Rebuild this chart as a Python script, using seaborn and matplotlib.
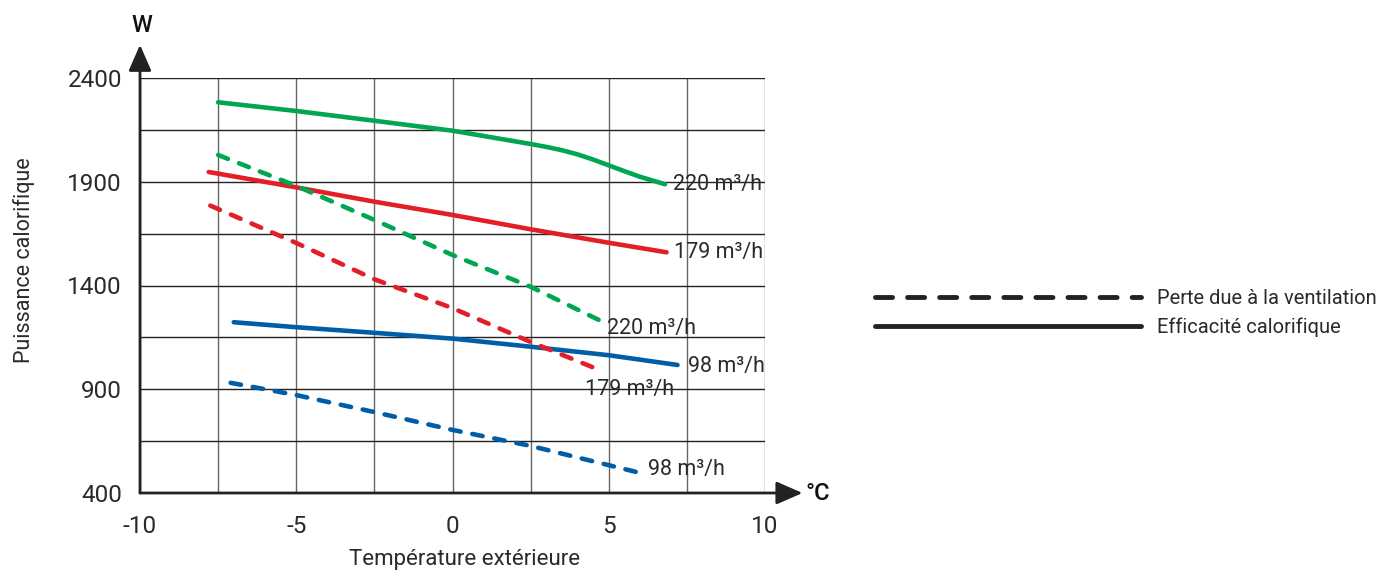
import matplotlib
matplotlib.use("Agg")
import matplotlib.pyplot as plt
from matplotlib.lines import Line2D
import seaborn as sns

# values (x in degC, y in W)
green_eff_x = [-7.5, -5, -2.5, 0, 2.5, 3.0, 3.5, 4.0, 4.5, 5.0, 5.5, 6.0, 6.8]
green_eff_y = [2283, 2241, 2194, 2146, 2082, 2068, 2052, 2032, 2007, 1979, 1951, 1924, 1888]
red_eff_x = [-7.8, -5, -2.5, 0, 2.5, 5, 6.85]
red_eff_y = [1947, 1873, 1804, 1740, 1671, 1606, 1560]
blue_eff_x = [-7.0, -5, -2.5, 0, 2.5, 5, 7.2]
blue_eff_y = [1223, 1199, 1172, 1144, 1105, 1064, 1017]

green_loss_x = [-7.5, -5, -2.5, 0, 2.5, 4.9]
green_loss_y = [2029, 1880, 1716, 1547, 1394, 1218]
red_loss_x = [-7.75, -5, -2.5, 0, 2.5, 4.65]
red_loss_y = [1785, 1605, 1430, 1291, 1128, 996]
blue_loss_x = [-7.1, -5, -2.5, 0, 2.5, 6.05]
blue_loss_y = [931, 872, 790, 704, 627, 495]

labels = ["220 m³/h", "179 m³/h", "98 m³/h"]
legend_labels = ["Perte due à la ventilation", "Efficacité calorifique"]

GREEN = "#00a651"
RED = "#e31e26"
BLUE = "#005ea8"
TXT = "#2a2a2a"

sns.set_style("white")
plt.rcParams["font.family"] = ["Roboto", "DejaVu Sans"]
plt.rcParams["font.weight"] = "normal"

fig = plt.figure(figsize=(13.78, 5.73), dpi=100)
ax = fig.add_axes([140 / 1378, 1 - 493 / 573, 625 / 1378, 415 / 573])

dash = (0, (2.3, 2.6))
for xs, ys, c in [(green_eff_x, green_eff_y, GREEN), (red_eff_x, red_eff_y, RED),
                  (blue_eff_x, blue_eff_y, BLUE)]:
    sns.lineplot(x=xs, y=ys, ax=ax, color=c, lw=3.3, sort=False, errorbar=None,
                 solid_capstyle="round", solid_joinstyle="round", zorder=3)
for xs, ys, c in [(green_loss_x, green_loss_y, GREEN), (red_loss_x, red_loss_y, RED),
                  (blue_loss_x, blue_loss_y, BLUE)]:
    sns.lineplot(x=xs, y=ys, ax=ax, color=c, lw=3.3, sort=False, errorbar=None,
                 linestyle=dash, dash_capstyle="round", zorder=3)

# curve labels
fs_lab = 15.5
ax.text(green_eff_x[-1] + 0.25, green_eff_y[-1], labels[0], ha="left", va="center", fontsize=fs_lab, color=TXT)
ax.text(red_eff_x[-1] + 0.25, red_eff_y[-1], labels[1], ha="left", va="center", fontsize=fs_lab, color=TXT)
ax.text(blue_eff_x[-1] + 0.35, blue_eff_y[-1] - 5, labels[2], ha="left", va="center", fontsize=fs_lab, color=TXT)
ax.text(green_loss_x[-1] + 0.05, green_loss_y[-1] - 25, labels[0], ha="left", va="center", fontsize=fs_lab, color=TXT)
ax.text(red_loss_x[-1] - 0.4, red_loss_y[-1] - 95, labels[1], ha="left", va="center", fontsize=fs_lab, color=TXT)
ax.text(blue_loss_x[-1] + 0.2, blue_loss_y[-1] + 20, labels[2], ha="left", va="center", fontsize=fs_lab, color=TXT)

ax.set_xlim(-10, 10)
ax.set_ylim(400, 2400)

xt = [-10 + 2.5 * i for i in range(9)]
ax.set_xticks(xt)
ax.set_xticklabels([f"{int(v)}" if v % 5 == 0 else "" for v in xt])
yt = [400 + 250 * i for i in range(9)]
ax.set_yticks(yt)
ax.set_yticklabels([f"{v}" if (v - 400) % 500 == 0 else "" for v in yt])

ax.tick_params(axis="x", direction="out", length=7, width=1, color="#666666",
               pad=9, labelsize=17.5, labelcolor=TXT)
ax.tick_params(axis="y", length=0, pad=13, labelsize=17.5, labelcolor=TXT)

ax.grid(True, axis="x", color="#666666", lw=1)
ax.grid(True, axis="y", color="#222222", lw=1)
ax.set_axisbelow(True)
for s in ax.spines.values():
    s.set_visible(False)

# axes with arrows
arrow = dict(arrowstyle="-|>,head_length=0.8,head_width=0.35", lw=2, color="#222222",
             mutation_scale=20, shrinkA=0, shrinkB=0)
ax.annotate("", xy=(0, 1.08), xytext=(0, 0), xycoords="axes fraction", arrowprops=arrow,
            annotation_clip=False)
ax.annotate("", xy=(1.06, 0), xytext=(0, 0), xycoords="axes fraction", arrowprops=arrow,
            annotation_clip=False)
fig.text(142 / 1378, 1 - 25 / 573, "W", ha="center", va="center", fontsize=17,
         color="#111111", fontweight="medium")
fig.text(818 / 1378, 1 - 494 / 573, "°C", ha="center", va="center", fontsize=17,
         color="#111111", fontweight="medium")

ax.set_xlabel("Température extérieure", fontsize=16, color=TXT)
ax.set_ylabel("Puissance calorifique", fontsize=15.5, color=TXT)
ax.xaxis.set_label_coords(0.52, -0.135)
ax.yaxis.set_label_coords(-0.168, 0.56)

handles = [
    Line2D([], [], color="#222222", lw=3.5, linestyle=(0, (3.5, 3.1)), dash_capstyle="round"),
    Line2D([], [], color="#222222", lw=3.5, solid_capstyle="round"),
]
fig.legend(handles, legend_labels, loc="center left", bbox_to_anchor=(875 / 1378, 1 - 313 / 573),
           frameon=False, fontsize=14.5, handlelength=13.2, handletextpad=0.8,
           labelspacing=0.45, borderpad=0, borderaxespad=0, labelcolor=TXT)

fig.savefig("out.png", dpi=100)
